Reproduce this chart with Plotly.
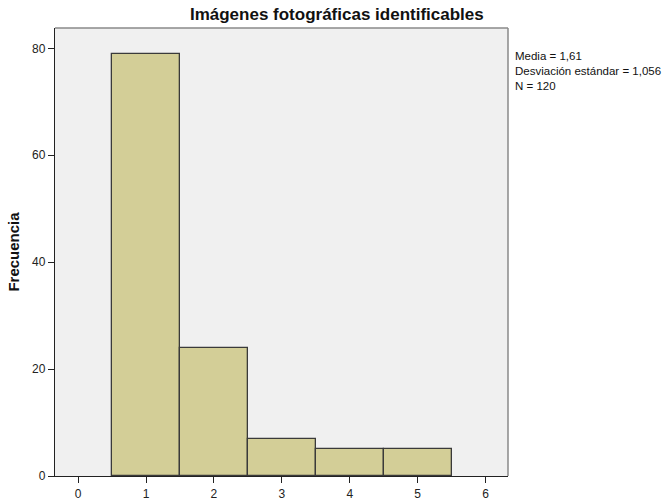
import plotly.graph_objects as go

# Frequency table for the histogram
valores = [1, 2, 3, 4, 5]
frecuencias = [79, 24, 7, 5, 5]
x_ticks = [0, 1, 2, 3, 4, 5, 6]
y_ticks = [0, 20, 40, 60, 80]

titulo = "Imágenes fotográficas identificables"
etiqueta_y = "Frecuencia"
resumen = ["Media = 1,61", "Desviación estándar = 1,056", "N = 120"]

FONT = "Liberation Sans, Arial, sans-serif"

fig = go.Figure()
fig.add_trace(go.Bar(
    x=valores,
    y=frecuencias,
    width=1,
    marker=dict(color="#D3CE97", line=dict(color="#3a3a3a", width=1.3)),
    hoverinfo="x+y",
))

# Light grey frame on the top and right of the plot area
fig.add_shape(type="line", xref="paper", yref="paper", x0=0, x1=1, y0=1, y1=1,
              line=dict(color="#8a8a8a", width=1.5))
fig.add_shape(type="line", xref="paper", yref="paper", x0=1, x1=1, y0=0, y1=1,
              line=dict(color="#8a8a8a", width=1.5))

fig.add_annotation(
    xref="paper", yref="paper", x=1.012, y=0.955,
    xanchor="left", yanchor="top", align="left", showarrow=False,
    text="<br>".join(resumen),
    font=dict(family=FONT, size=11.5, color="#111"),
)

fig.update_layout(
    width=671, height=501,
    margin=dict(l=55, r=163, t=28, b=25),
    paper_bgcolor="white",
    plot_bgcolor="#F0F0F0",
    showlegend=False,
    bargap=0,
    title=dict(text="<b>" + titulo + "</b>", x=0.502, xref="container", xanchor="center",
               y=1 - 14 / 501, yanchor="middle",
               font=dict(family=FONT, size=17, color="#111")),
    font=dict(family=FONT, size=12, color="#222"),
)

fig.update_xaxes(
    range=[-0.34, 6.33], tickvals=x_ticks, ticks="outside", ticklen=6, tickwidth=1.3,
    tickcolor="#222", showline=True, linecolor="#222", linewidth=1.3,
    showgrid=False, zeroline=False, fixedrange=True, automargin=False,
    tickfont=dict(family=FONT, size=12, color="#222"),
)
fig.update_yaxes(
    range=[0, 83.8], tickvals=y_ticks, ticks="outside", ticklen=6, tickwidth=1.3,
    tickcolor="#222", showline=True, linecolor="#222", linewidth=1.3,
    showgrid=False, zeroline=False, fixedrange=True, automargin=False,
    title=dict(text="<b>" + etiqueta_y + "</b>", standoff=8,
               font=dict(family=FONT, size=15, color="#111")),
    tickfont=dict(family=FONT, size=12, color="#222"),
)

fig.write_html("out.html")
